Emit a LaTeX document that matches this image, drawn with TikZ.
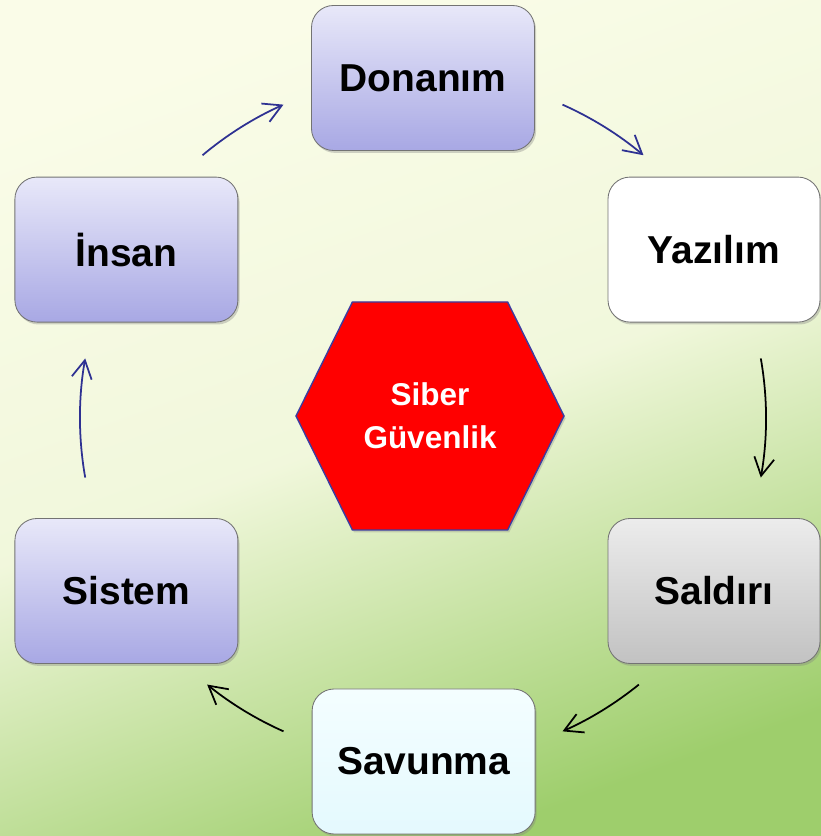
\documentclass[tikz,border=0pt]{standalone}
\usepackage{fontspec}
\setmainfont{Liberation Sans}
\usetikzlibrary{arrows.meta,shadows}
\definecolor{bgcream}{RGB}{250,252,232}
\definecolor{bggreen}{RGB}{158,206,108}
\definecolor{lavtop}{RGB}{232,232,249}
\definecolor{lavbot}{RGB}{168,168,228}
\definecolor{greytop}{RGB}{236,236,236}
\definecolor{greybot}{RGB}{194,194,194}
\definecolor{cyantop}{RGB}{244,254,255}
\definecolor{cyanbot}{RGB}{228,249,254}
\definecolor{arrblue}{RGB}{46,49,146}
\definecolor{hexblue}{RGB}{60,60,160}
\tikzset{
box/.style={draw=black!55, line width=0.6pt, rounded corners=0.55cm,
  minimum width=5.575cm, minimum height=3.625cm,
  font=\fontsize{27.7}{33}\selectfont\bfseries,
  drop shadow={opacity=0.35, shadow xshift=0.04cm, shadow yshift=-0.06cm}},
lavbox/.style={box, top color=lavtop, bottom color=lavbot},
arr/.style={line width=1.25pt, -{Straight Barb[length=0.45cm, width=0.5cm]}}
}
\begin{document}
\begin{tikzpicture}
\shade[top color=bgcream, bottom color=bggreen, middle color=bgcream!90!bggreen, shading angle=20]
  (0,0) rectangle (20.525,20.9);
\useasboundingbox (0,0) rectangle (20.525,20.9);
% hexagon in the middle
\filldraw[fill=red, draw=hexblue, line width=1pt, drop shadow={opacity=0.3, shadow xshift=0.04cm, shadow yshift=-0.06cm}]
  (7.4,10.5)--(8.81,13.35)--(12.69,13.35)--(14.1,10.5)--(12.69,7.65)--(8.81,7.65)--cycle;
\node[text=white, align=center, font=\fontsize{22.4}{30.6}\selectfont\bfseries] (siber) at (10.75,10.5) {Siber\\Güvenlik};
% boxes
\node[lavbox] (donanim) at (10.575,18.95) {Donanım};
\node[box, fill=white, minimum width=5.3cm] (yazilim) at (17.85,14.66) {Yazılım};
\node[box, top color=greytop, bottom color=greybot, minimum width=5.3cm] (saldiri) at (17.85,6.125) {Saldırı};
\node[box, top color=cyantop, bottom color=cyanbot] (savunma) at (10.59,1.8625) {Savunma};
\node[lavbox] (sistem) at (3.16,6.125) {Sistem};
\node[lavbox] (insan) at (3.16,14.66) {İnsan};
% arrows on the ring
\coordinate (ring) at (10.575,10.45);
\foreach \a/\b/\c in {130/114/arrblue,66/50/arrblue,10/-10/black,-51/-66/black,-114/-129/black,190/170/arrblue}
  \draw[arr, color=\c] (ring) ++(\a:8.575) arc[start angle=\a, end angle=\b, radius=8.575];
\end{tikzpicture}
\end{document}
